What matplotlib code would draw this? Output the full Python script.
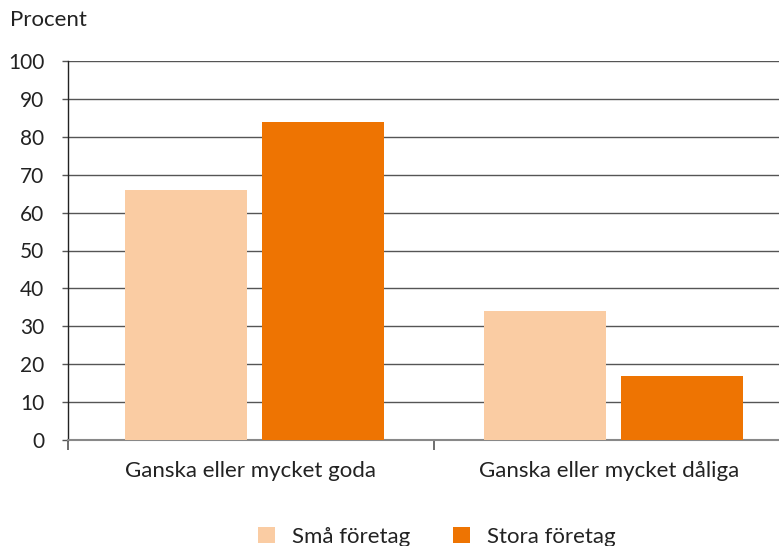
import matplotlib
matplotlib.use("Agg")
import matplotlib.pyplot as plt
import numpy as np

categories = ["Ganska eller mycket goda", "Ganska eller mycket dåliga"]
series_names = ["Små företag", "Stora företag"]
sma = [66, 34]
stora = [84, 17]
colors = ["#FACCA3", "#EE7402"]
yticks = list(range(0, 101, 10))

plt.rcParams['font.family'] = ['Lato', 'DejaVu Sans']

W, H = 779, 546
fig = plt.figure(figsize=(W/100, H/100), dpi=100)
ax_left, ax_right, ax_top, ax_bottom = 68, 779, 61, 440
ax = fig.add_axes([ax_left/W, 1-ax_bottom/H, (ax_right-ax_left)/W, (ax_bottom-ax_top)/H])

x = np.arange(len(categories))
w = 0.34
off = 0.19
ax.bar(x - off, sma, width=w, color=colors[0], zorder=3, label=series_names[0])
ax.bar(x + off, stora, width=w, color=colors[1], zorder=3, label=series_names[1])

ax.set_xlim(-0.5195, 1.461)
ax.set_ylim(0, 100)
ax.set_yticks(yticks)
ax.set_yticklabels([str(t) for t in yticks], fontsize=15, color="#222222")
ax.yaxis.grid(True, color="#555555", linewidth=1.0, zorder=0)
ax.tick_params(axis='y', length=4, width=1.0, color="#555555", pad=13)

ax.set_xticks([-0.5195, 0.5])
ax.set_xticklabels([])
ax.tick_params(axis='x', length=7, width=1.2, color="#555555")
for xi, lab in zip(x, categories):
    ax.text(xi - 0.012, -8.2, lab, ha='center', va='center', fontsize=16, color="#222222")

for s in ['top', 'right']:
    ax.spines[s].set_visible(False)
ax.spines['left'].set_color("#222222")
ax.spines['left'].set_linewidth(1.0)
ax.spines['bottom'].set_color("#888888")
ax.spines['bottom'].set_linewidth(1.5)

fig.text(10/W, 1-20/H, "Procent", ha='left', va='center', fontsize=16, color="#222222")

leg = fig.legend(loc='center', bbox_to_anchor=(0.561, 1-537/H), ncol=2, frameon=False,
                 fontsize=16, handlelength=0.75, handleheight=0.75, handletextpad=0.8,
                 columnspacing=1.9)
for t in leg.get_texts():
    t.set_color("#222222")

fig.savefig("out.png", dpi=100)
